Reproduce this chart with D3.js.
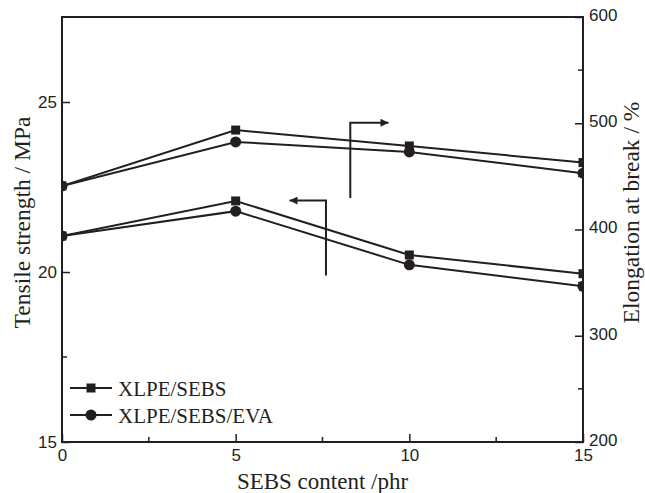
<!DOCTYPE html>
<html>
<head>
<meta charset="utf-8">
<script src="https://cdn.jsdelivr.net/npm/d3@7"></script>
<style>
  body { margin: 0; background: #fff; }
  svg { display: block; }
</style>
</head>
<body>
<svg id="chart" width="645" height="493"></svg>
<script>
// values
const sebsContent = [0, 5, 10, 15];
const tensileSEBS = [21.06, 22.09, 20.5, 19.95];
const tensileEVA = [21.06, 21.79, 20.21, 19.58];
const elongSEBS = [441, 493.6, 478.6, 463];
const elongEVA = [441, 482.4, 473, 453];

const xTicks = [0, 5, 10, 15];
const xMinor = [2.5, 7.5, 12.5];
const leftTicks = [15, 20, 25];
const leftMinor = [17.5, 22.5];
const rightTicks = [200, 300, 400, 500, 600];
const rightMinor = [250, 350, 450, 550];

const seriesNames = ["XLPE/SEBS", "XLPE/SEBS/EVA"];

const margin = { top: 17, right: 62, bottom: 51, left: 62 };
const W = 645, H = 493;
const ink = "#231f20";

const svg = d3.select("#chart");
const x = d3.scaleLinear().domain([0, 15]).range([margin.left, W - margin.right]);
const yL = d3.scaleLinear().domain([15, 27.5]).range([H - margin.bottom, margin.top]);
const yR = d3.scaleLinear().domain([200, 600]).range([H - margin.bottom, margin.top]);

svg.append("defs").append("clipPath").attr("id", "plotClip")
  .append("rect")
  .attr("x", margin.left).attr("y", margin.top)
  .attr("width", W - margin.left - margin.right)
  .attr("height", H - margin.top - margin.bottom);

// axes with inward ticks
function drawAxis(axis, transform, majorLen, minorVals, scale, orient) {
  const g = svg.append("g").attr("transform", transform)
    .call(axis.tickSize(-majorLen).tickPadding(majorLen + 5));
  g.select(".domain").remove();
  g.selectAll(".tick line").attr("stroke", ink).attr("stroke-width", 1.5);
  g.selectAll(".tick text")
    .attr("font-family", "'Liberation Sans', Arial, sans-serif")
    .attr("font-size", 17).attr("fill", ink);
  minorVals.forEach(v => {
    const p = scale(v);
    if (orient === "bottom") g.append("line").attr("x1", p).attr("x2", p).attr("y1", 0).attr("y2", -5);
    if (orient === "left") g.append("line").attr("y1", p).attr("y2", p).attr("x1", 0).attr("x2", 5);
    if (orient === "right") g.append("line").attr("y1", p).attr("y2", p).attr("x1", 0).attr("x2", -5);
  });
  g.selectAll("line:not(.tick line)").attr("stroke", ink).attr("stroke-width", 1.5);
  return g;
}

const gx = drawAxis(d3.axisBottom(x).tickValues(xTicks).tickFormat(d3.format("d")),
  `translate(0,${H - margin.bottom})`, 8, xMinor, x, "bottom");
gx.selectAll(".tick text").attr("y", 7).attr("dy", "0.71em");

const gl = drawAxis(d3.axisLeft(yL).tickValues(leftTicks).tickFormat(d3.format("d")),
  `translate(${margin.left},0)`, 8, leftMinor, yL, "left");
gl.selectAll(".tick text").attr("x", -5);

const gr = drawAxis(d3.axisRight(yR).tickValues(rightTicks).tickFormat(d3.format("d")),
  `translate(${W - margin.right},0)`, 8, rightMinor, yR, "right");
gr.selectAll(".tick text").attr("x", 6).attr("dy", "0.2em");

// frame
svg.append("rect")
  .attr("x", margin.left).attr("y", margin.top)
  .attr("width", W - margin.left - margin.right)
  .attr("height", H - margin.top - margin.bottom)
  .attr("fill", "none").attr("stroke", ink).attr("stroke-width", 2);

// series
const plot = svg.append("g").attr("clip-path", "url(#plotClip)");
const series = [
  { vals: elongSEBS, y: yR, shape: "square" },
  { vals: elongEVA, y: yR, shape: "circle" },
  { vals: tensileSEBS, y: yL, shape: "square" },
  { vals: tensileEVA, y: yL, shape: "circle" }
];

series.forEach(s => {
  const pts = sebsContent.map((c, i) => [x(c), s.y(s.vals[i])]);
  plot.append("path")
    .attr("d", d3.line()(pts))
    .attr("fill", "none").attr("stroke", ink).attr("stroke-width", 2);
});
series.forEach(s => {
  const pts = sebsContent.map((c, i) => [x(c), s.y(s.vals[i])]);
  pts.forEach(p => {
    if (s.shape === "square") {
      plot.append("rect").attr("x", p[0] - 4.5).attr("y", p[1] - 4.5)
        .attr("width", 9).attr("height", 9).attr("fill", ink);
    } else {
      plot.append("circle").attr("cx", p[0]).attr("cy", p[1]).attr("r", 5.5).attr("fill", ink);
    }
  });
});

// arrows pointing at the relevant axis
svg.append("defs").append("marker")
  .attr("id", "arrowHead").attr("viewBox", "0 0 10 10")
  .attr("refX", 10).attr("refY", 5)
  .attr("markerWidth", 12).attr("markerHeight", 8).attr("orient", "auto")
  .attr("markerUnits", "userSpaceOnUse")
  .append("path").attr("d", "M0,0 L10,5 L0,10 Z").attr("fill", ink);

const rightArrow = [[8.3, 429.6], [8.3, 500.5], [9.4, 500.5]];
const leftArrow = [[7.6, 19.9], [7.6, 22.1], [6.55, 22.1]];
svg.append("path")
  .attr("d", d3.line()(rightArrow.map(d => [x(d[0]), yR(d[1])])))
  .attr("fill", "none").attr("stroke", ink).attr("stroke-width", 2)
  .attr("marker-end", "url(#arrowHead)");
svg.append("path")
  .attr("d", d3.line()(leftArrow.map(d => [x(d[0]), yL(d[1])])))
  .attr("fill", "none").attr("stroke", ink).attr("stroke-width", 2)
  .attr("marker-end", "url(#arrowHead)");

// legend
const serif = "'Liberation Serif', 'Times New Roman', serif";
const legend = svg.append("g").attr("transform", "translate(70,388)");
seriesNames.forEach((name, i) => {
  const g = legend.append("g").attr("transform", `translate(0,${i * 27})`);
  g.append("line").attr("x1", 0).attr("x2", 42).attr("y1", 0).attr("y2", 0)
    .attr("stroke", ink).attr("stroke-width", 2);
  if (i === 0) {
    g.append("rect").attr("x", 21 - 4.5).attr("y", -4.5).attr("width", 9).attr("height", 9).attr("fill", ink);
  } else {
    g.append("circle").attr("cx", 21).attr("cy", 0).attr("r", 5.5).attr("fill", ink);
  }
  g.append("text").attr("x", 48).attr("y", 7.5)
    .attr("font-family", serif)
    .attr("font-size", 21).attr("fill", ink).text(name);
});

// axis titles
svg.append("text")
  .attr("x", (margin.left + W - margin.right) / 2).attr("y", 489)
  .attr("text-anchor", "middle").attr("font-family", serif)
  .attr("font-size", 23).attr("fill", ink).text("SEBS content /phr");
svg.append("text")
  .attr("transform", `translate(30,${(margin.top + H - margin.bottom) / 2 - 7}) rotate(-90)`)
  .attr("text-anchor", "middle").attr("font-family", serif)
  .attr("font-size", 23.5).attr("fill", ink).text("Tensile strength / MPa");
svg.append("text")
  .attr("transform", `translate(639,${(margin.top + H - margin.bottom) / 2 - 17}) rotate(-90)`)
  .attr("text-anchor", "middle").attr("font-family", serif)
  .attr("font-size", 23.5).attr("fill", ink).text("Elongation at break / %");
</script>
</body>
</html>
